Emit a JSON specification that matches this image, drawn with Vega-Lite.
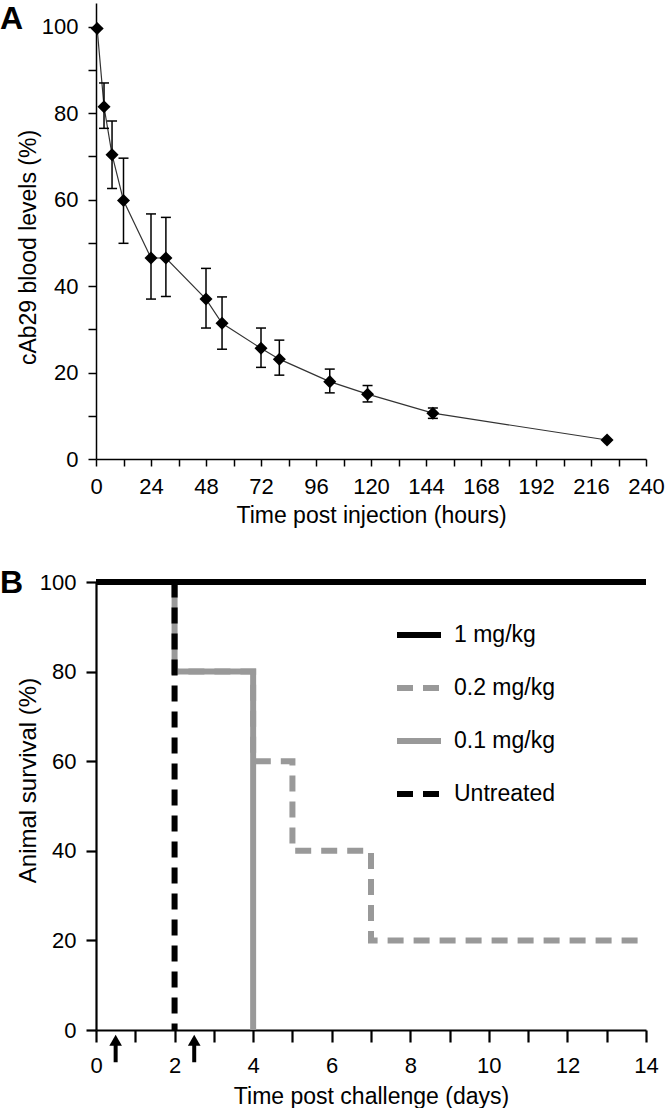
{
  "$schema": "https://vega.github.io/schema/vega-lite/v6.json",
  "padding": {"top": 3, "left": 0, "right": 0, "bottom": 0},
  "background": "white",
  "config": {
    "font": "Liberation Sans",
    "view": {"stroke": null},
    "axis": {"grid": false, "domainColor": "black", "tickColor": "black", "labelColor": "black", "titleColor": "black", "labelFont": "Liberation Sans", "titleFont": "Liberation Sans", "labelFontSize": 22, "titleFontSize": 23, "titleFontWeight": "normal", "labelFlush": false, "labelOverlap": false},
    "title": {"font": "Liberation Sans", "fontSize": 32, "fontWeight": "bold", "color": "black", "anchor": "start", "frame": "group", "baseline": "alphabetic"},
    "legend": {"labelFont": "Liberation Sans"}
  },
  "bounds": "flush",
  "spacing": 123,
  "vconcat": [
    {
      "width": 550,
      "height": 456,
      "title": {"text": "A", "dx": -96, "offset": -33},
      "data": {"values": [
        {"hours": 0.5, "pct": 99.6, "lo": null, "hi": null},
        {"hours": 3.5, "pct": 81.5, "lo": 76.5, "hi": 87.0},
        {"hours": 7, "pct": 70.4, "lo": 62.6, "hi": 78.2},
        {"hours": 12, "pct": 59.8, "lo": 49.9, "hi": 69.6},
        {"hours": 24, "pct": 46.5, "lo": 37.0, "hi": 56.7},
        {"hours": 30.5, "pct": 46.5, "lo": 37.6, "hi": 55.9},
        {"hours": 48, "pct": 37.0, "lo": 30.3, "hi": 44.1},
        {"hours": 55, "pct": 31.4, "lo": 25.4, "hi": 37.5},
        {"hours": 72, "pct": 25.6, "lo": 21.2, "hi": 30.3},
        {"hours": 80, "pct": 23.1, "lo": 19.4, "hi": 27.5},
        {"hours": 102, "pct": 17.9, "lo": 15.3, "hi": 20.8},
        {"hours": 118.5, "pct": 15.0, "lo": 13.2, "hi": 17.0},
        {"hours": 147, "pct": 10.6, "lo": 9.4, "hi": 11.8},
        {"hours": 223, "pct": 4.4, "lo": null, "hi": null}
      ]},
      "encoding": {
        "x": {"field": "hours", "type": "quantitative", "scale": {"domain": [0, 240], "nice": false, "zero": false},
          "axis": {"values": [0, 12, 24, 36, 48, 60, 72, 84, 96, 108, 120, 132, 144, 156, 168, 180, 192, 204, 216, 228, 240],
            "labelExpr": "datum.value % 24 === 0 ? datum.label : ''", "tickSize": 7, "labelPadding": 10,
            "title": "Time post injection (hours)", "titlePadding": 7, "domainWidth": 1.5, "tickWidth": 1.5}}
      },
      "layer": [
        {
          "mark": {"type": "line", "color": "#333333", "strokeWidth": 1.2},
          "encoding": {
            "y": {"field": "pct", "type": "quantitative", "scale": {"domain": [0, 105.5], "nice": false},
              "axis": {"values": [0, 10, 20, 30, 40, 50, 60, 70, 80, 90, 100],
                "labelExpr": "datum.value % 20 === 0 ? datum.label : ''", "tickSize": 8, "labelPadding": 10,
                "title": "cAb29 blood levels (%)", "titleFontSize": 23, "titleX": -56, "titleY": 244, "domainWidth": 1.5, "tickWidth": 1.5}}
          }
        },
        {
          "mark": {"type": "rule", "color": "black", "strokeWidth": 1.5},
          "encoding": {"y": {"field": "lo", "type": "quantitative"}, "y2": {"field": "hi"}}
        },
        {
          "mark": {"type": "tick", "orient": "horizontal", "size": 10, "thickness": 1.5, "color": "black", "opacity": 1},
          "encoding": {"y": {"field": "lo", "type": "quantitative"}}
        },
        {
          "mark": {"type": "tick", "orient": "horizontal", "size": 10, "thickness": 1.5, "color": "black", "opacity": 1},
          "encoding": {"y": {"field": "hi", "type": "quantitative"}}
        },
        {
          "mark": {"type": "point", "shape": "diamond", "filled": true, "size": 170, "color": "black", "opacity": 1},
          "encoding": {"y": {"field": "pct", "type": "quantitative"}}
        }
      ]
    },
    {
      "width": 550,
      "height": 448,
      "title": {"text": "B", "dx": -96, "offset": -30},
      "data": {"values": [
        {"group": "1 mg/kg", "day": 0, "surv": 100},
        {"group": "1 mg/kg", "day": 14, "surv": 100},
        {"group": "0.2 mg/kg", "day": 0, "surv": 100},
        {"group": "0.2 mg/kg", "day": 2, "surv": 80},
        {"group": "0.2 mg/kg", "day": 4, "surv": 60},
        {"group": "0.2 mg/kg", "day": 5, "surv": 40},
        {"group": "0.2 mg/kg", "day": 7, "surv": 20},
        {"group": "0.2 mg/kg", "day": 14, "surv": 20},
        {"group": "0.1 mg/kg", "day": 0, "surv": 100},
        {"group": "0.1 mg/kg", "day": 2, "surv": 80},
        {"group": "0.1 mg/kg", "day": 4, "surv": 0},
        {"group": "Untreated", "day": 0, "surv": 100},
        {"group": "Untreated", "day": 2, "surv": 0}
      ]},
      "encoding": {
        "x": {"field": "day", "type": "quantitative", "scale": {"domain": [0, 14], "nice": false},
          "axis": {"values": [0, 1, 2, 3, 4, 5, 6, 7, 8, 9, 10, 11, 12, 13, 14],
            "labelExpr": "datum.value % 2 === 0 ? datum.label : ''", "tickSize": 12, "labelPadding": 13,
            "title": "Time post challenge (days)", "titlePadding": 9, "domainWidth": 2.2, "tickWidth": 2.2,
            "encode": {"ticks": {"update": {"y2": {"signal": "datum.value % 2 === 0 ? 12 : 6"}}}}}}
      },
      "layer": [
        {
          "transform": [{"filter": "datum.group === '0.2 mg/kg' || datum.group === '0.1 mg/kg'"}],
          "mark": {"type": "line", "interpolate": "step-after", "strokeWidth": 6, "strokeCap": "butt"},
          "encoding": {
            "y": {"field": "surv", "type": "quantitative", "scale": {"domain": [0, 100], "nice": false},
              "axis": {"values": [0, 20, 40, 60, 80, 100], "tickSize": 10, "labelPadding": 10,
                "title": "Animal survival (%)", "titleFontSize": 24, "titleX": -56, "titleY": 198, "domainWidth": 2.2, "tickWidth": 2.2}},
            "color": {"field": "group", "type": "nominal",
              "scale": {"domain": ["1 mg/kg", "0.2 mg/kg", "0.1 mg/kg", "Untreated"], "range": ["#000000", "#999999", "#999999", "#000000"]},
              "legend": {"orient": "none", "legendX": 298, "legendY": 607, "title": null, "symbolSize": 1936, "symbolStrokeWidth": 6, "symbolType": "stroke", "labelFontSize": 23, "labelColor": "black", "labelOffset": 10, "rowPadding": 16, "padding": 0}},
            "strokeDash": {"field": "group", "type": "nominal",
              "scale": {"domain": ["1 mg/kg", "0.2 mg/kg", "0.1 mg/kg", "Untreated"], "range": [[1, 0], [16, 10], [1, 0], [16, 10]]},
              "legend": {"orient": "none", "legendX": 298, "legendY": 607, "title": null, "symbolSize": 1936, "symbolStrokeWidth": 6, "symbolType": "stroke", "labelFontSize": 23, "labelColor": "black", "labelOffset": 10, "rowPadding": 16, "padding": 0}}
          }
        },
        {
          "transform": [{"filter": "datum.group === 'Untreated'"}],
          "mark": {"type": "line", "interpolate": "step-after", "strokeWidth": 6, "strokeCap": "butt"},
          "encoding": {
            "y": {"field": "surv", "type": "quantitative"},
            "color": {"field": "group", "type": "nominal",
              "scale": {"domain": ["1 mg/kg", "0.2 mg/kg", "0.1 mg/kg", "Untreated"], "range": ["#000000", "#999999", "#999999", "#000000"]},
              "legend": {"orient": "none", "legendX": 298, "legendY": 607, "title": null, "symbolSize": 1936, "symbolStrokeWidth": 6, "symbolType": "stroke", "labelFontSize": 23, "labelColor": "black", "labelOffset": 10, "rowPadding": 16, "padding": 0}},
            "strokeDash": {"field": "group", "type": "nominal",
              "scale": {"domain": ["1 mg/kg", "0.2 mg/kg", "0.1 mg/kg", "Untreated"], "range": [[1, 0], [16, 10], [1, 0], [16, 10]]},
              "legend": {"orient": "none", "legendX": 298, "legendY": 607, "title": null, "symbolSize": 1936, "symbolStrokeWidth": 6, "symbolType": "stroke", "labelFontSize": 23, "labelColor": "black", "labelOffset": 10, "rowPadding": 16, "padding": 0}}
          }
        },
        {
          "transform": [{"filter": "datum.group === '1 mg/kg'"}],
          "mark": {"type": "line", "interpolate": "step-after", "strokeWidth": 6, "strokeCap": "butt"},
          "encoding": {
            "y": {"field": "surv", "type": "quantitative"},
            "color": {"field": "group", "type": "nominal",
              "scale": {"domain": ["1 mg/kg", "0.2 mg/kg", "0.1 mg/kg", "Untreated"], "range": ["#000000", "#999999", "#999999", "#000000"]},
              "legend": {"orient": "none", "legendX": 298, "legendY": 607, "title": null, "symbolSize": 1936, "symbolStrokeWidth": 6, "symbolType": "stroke", "labelFontSize": 23, "labelColor": "black", "labelOffset": 10, "rowPadding": 16, "padding": 0}},
            "strokeDash": {"field": "group", "type": "nominal",
              "scale": {"domain": ["1 mg/kg", "0.2 mg/kg", "0.1 mg/kg", "Untreated"], "range": [[1, 0], [16, 10], [1, 0], [16, 10]]},
              "legend": {"orient": "none", "legendX": 298, "legendY": 607, "title": null, "symbolSize": 1936, "symbolStrokeWidth": 6, "symbolType": "stroke", "labelFontSize": 23, "labelColor": "black", "labelOffset": 10, "rowPadding": 16, "padding": 0}}
          }
        },
        {
          "data": {"values": [{"day": 0.5}, {"day": 2.5}]},
          "mark": {"type": "rule", "color": "black", "strokeWidth": 4, "clip": false},
          "encoding": {"y": {"datum": -2.4}, "y2": {"datum": -7.2}}
        },
        {
          "data": {"values": [{"day": 0.5}, {"day": 2.5}]},
          "mark": {"type": "point", "shape": "triangle-up", "filled": true, "size": 160, "color": "black", "opacity": 1, "clip": false},
          "encoding": {"y": {"datum": -2.3}}
        }
      ]
    }
  ]
}
